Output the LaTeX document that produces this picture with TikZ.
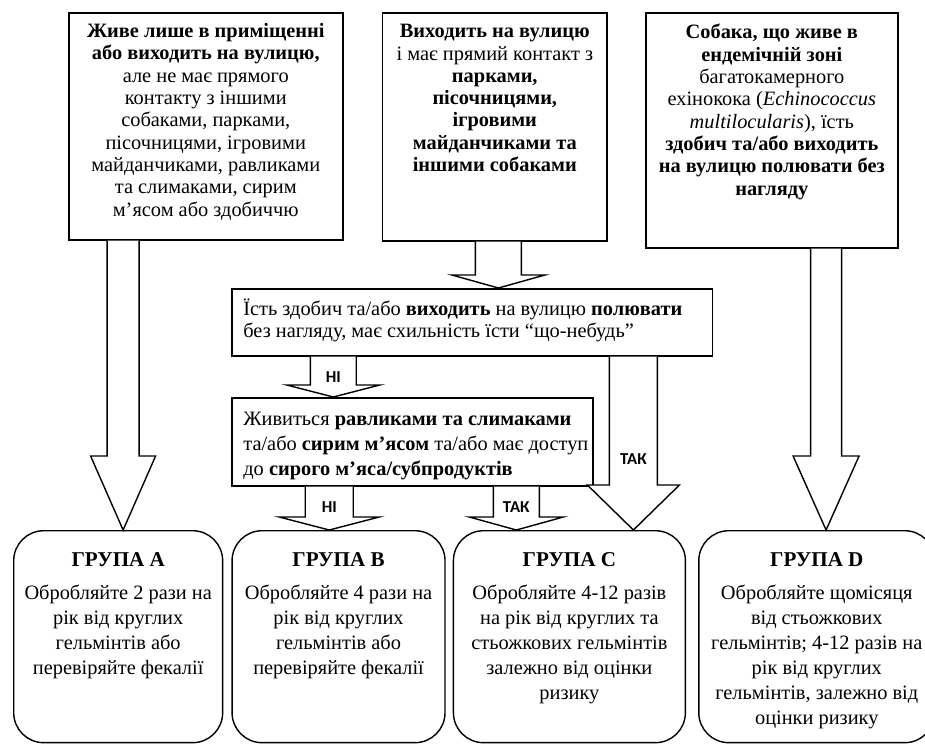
\documentclass[tikz,border=0pt]{standalone}
\usepackage{fontspec}
\setmainfont{Liberation Serif}
\newfontfamily\tagfont{Carlito}
\usepackage{tikz}
\usetikzlibrary{positioning,calc}
\tikzset{
  frame/.style={rectangle,draw=black,line width=0.9pt,fill=white,inner sep=0pt,anchor=north west},
  grp/.style={rectangle,rounded corners=0.6cm,draw=black,line width=0.8pt,fill=white,
              inner sep=0pt,minimum height=4.24cm,anchor=north west},
  txt/.style={align=center,inner sep=0pt,font=\fontsize{11.6}{12.7}\selectfont},
  qtxt/.style={align=left,inner sep=0pt,font=\fontsize{11.6}{12.4}\selectfont},
  gtxt/.style={align=center,inner sep=0pt,font=\fontsize{11.6}{14.2}\selectfont},
  tag/.style={inner sep=0pt,font=\tagfont\bfseries\fontsize{9.5}{11}\selectfont},
  fat/.style={draw=black,line width=0.8pt,fill=white,line join=miter},
}
\newcommand{\grptitle}[1]{{\fontsize{12}{14.2}\selectfont\bfseries #1}}
\newcommand{\fatarrow}[5]{%
  \draw[fat] let \p1=(#1), \p2=(#2) in
    (\x1-#3,\y1) -- (\x1-#3,\y2+#5) -- (\x1-#4,\y2+#5) -- (\x1,\y2)
    -- (\x1+#4,\y2+#5) -- (\x1+#3,\y2+#5) -- (\x1+#3,\y1);}

\begin{document}
\begin{tikzpicture}[x=0.02cm,y=-0.02cm]
  \useasboundingbox (0,0) rectangle (925,744);
  \clip (0,0) rectangle (925,744);

  \node[frame,minimum width=5.48cm,minimum height=4.54cm] (sit) at (68,12) {};
  \node[frame,minimum width=4.5cm,minimum height=4.56cm,right=0.76cm of sit.north east,anchor=north west] (walk) {};
  \node[frame,minimum width=5.04cm,minimum height=4.7cm,right=0.74cm of walk.north east,anchor=north west] (endem) {};
  \node[frame,minimum width=9.62cm,minimum height=1.34cm] (prey) at (231,288) {};
  \node[frame,minimum width=7.22cm,minimum height=1.76cm] (snail) at (231,397) {};

  \node[grp,minimum width=4.18cm] (grpA) at (13,530) {};
  \node[grp,minimum width=4.26cm,right=0.16cm of grpA.north east,anchor=north west] (grpB) {};
  \node[grp,minimum width=4.64cm,right=0.14cm of grpB.north east,anchor=north west] (grpC) {};
  \node[grp,minimum width=4.72cm,right=0.24cm of grpC.north east,anchor=north west] (grpD) {};

  \node[txt,below=0.22cm of sit.north] (sitT)
     {\textbf{Живе лише в приміщенні}\\ \textbf{або виходить на вулицю,}\\ але не має прямого\\ контакту з іншими\\
      собаками, парками,\\ пісочницями, ігровими\\ майданчиками, равликами\\ та слимаками, сирим\\ м’ясом або здобиччю};
  \node[txt,below=0.24cm of walk.north] (walkT)
     {\textbf{Виходить на вулицю}\\ і має прямий контакт з\\ \textbf{парками,}\\ \textbf{пісочницями,}\\
      \textbf{ігровими}\\ \textbf{майданчиками та}\\ \textbf{іншими собаками}};
  \node[txt,below=0.24cm of endem.north] (endemT)
     {\textbf{Собака, що живе в}\\ \textbf{ендемічній зоні}\\ багатокамерного\\ ехінокока (\textit{Echinococcus}\\
      \textit{multilocularis}), їсть\\ \textbf{здобич та/або виходить}\\ \textbf{на вулицю полювати без}\\ \textbf{нагляду}};
  \node[qtxt,below right=0.22cm and 0.24cm of prey.north west] (preyT)
     {Їсть здобич та/або \textbf{виходить} на вулицю \textbf{полювати}\\ без нагляду, має схильність їсти “що-небудь"};
  \node[qtxt,font=\fontsize{11.6}{14.2}\selectfont,below right=0.3cm and 0.24cm of snail.north west] (snailT)
     {Живиться \textbf{равликами та слимаками}\\ та/або \textbf{сирим м’ясом} та/або має доступ\\ до \textbf{сирого м’яса/субпродуктів}};

  \node[gtxt,below=0.44cm of grpA.north] (grpAT)
     {\grptitle{ГРУПА A}\\[4.6pt] Обробляйте 2 рази на\\ рік від круглих\\ гельмінтів або\\ перевіряйте фекалії};
  \node[gtxt,below=0.44cm of grpB.north] (grpBT)
     {\grptitle{ГРУПА B}\\[4.6pt] Обробляйте 4 рази на\\ рік від круглих\\ гельмінтів або\\ перевіряйте фекалії};
  \node[gtxt,below=0.44cm of grpC.north] (grpCT)
     {\grptitle{ГРУПА C}\\[4.6pt] Обробляйте 4-12 разів\\ на рік від круглих та\\ стьожкових гельмінтів\\ залежно від оцінки\\ ризику};
  \node[gtxt,below=0.44cm of grpD.north] (grpDT)
     {\grptitle{ГРУПА D}\\[4.6pt] Обробляйте щомісяця\\ від стьожкових\\ гельмінтів; 4-12 разів на\\ рік від круглих\\ гельмінтів, залежно від\\ оцінки ризику};

  \coordinate (aA) at ($(sit.south west)!0.2!(sit.south east)$);
  \coordinate (aW) at ($(walk.south west)!0.516!(walk.south east)$);
  \coordinate (aD) at ($(endem.south west)!0.714!(endem.south east)$);
  \coordinate (aN1) at ($(prey.south west)!0.212!(prey.south east)$);
  \coordinate (aT1) at ($(prey.south west)!0.834!(prey.south east)$);
  \coordinate (aN2) at ($(snail.south west)!0.271!(snail.south east)$);
  \coordinate (aT2) at ($(snail.south west)!0.787!(snail.south east)$);

  \fatarrow{aA}{grpA.north}{0.32cm}{0.65cm}{1.48cm}
  \fatarrow{aW}{prey.north}{0.46cm}{0.93cm}{0.26cm}
  \fatarrow{aD}{grpD.north}{0.31cm}{0.66cm}{1.48cm}
  \fatarrow{aN1}{snail.north}{0.46cm}{0.93cm}{0.24cm}
  \fatarrow{aN2}{grpB.north}{0.48cm}{1.0cm}{0.26cm}
  \fatarrow{aT2}{grpC.north}{0.46cm}{0.94cm}{0.26cm}
  \fatarrow{aT1}{grpC.north}{0.48cm}{0.92cm}{0.9cm}

  \node[tag,below=0.3cm of aN1] (no1) {НІ};
  \node[tag,below=0.3cm of aN2] (no2) {НІ};
  \node[tag,below=0.3cm of aT2] (yes2) {ТАК};
  \node[tag,below=1.94cm of aT1] (yes1) {ТАК};
\end{tikzpicture}
\end{document}
